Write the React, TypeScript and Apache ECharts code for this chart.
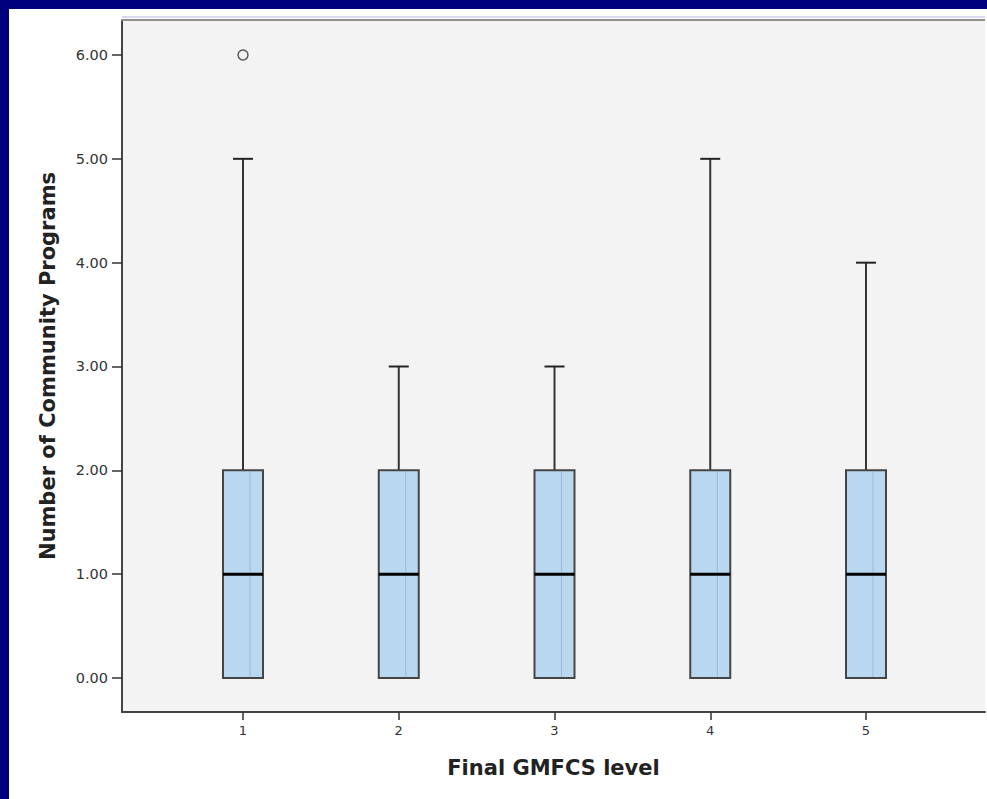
import React, { useEffect, useRef } from "react";
import * as echarts from "echarts";

const categories = [1, 2, 3, 4, 5];
const minVals = [0, 0, 0, 0, 0];
const q1Vals = [0, 0, 0, 0, 0];
const medianVals = [1, 1, 1, 1, 1];
const q3Vals = [2, 2, 2, 2, 2];
const maxVals = [5, 3, 3, 5, 4];
const outliers = [[1, 6]];
const yTicks = [0, 1, 2, 3, 4, 5, 6];

export default function App() {
  const ref = useRef<HTMLDivElement>(null);
  useEffect(() => {
    if (!ref.current) return;
    const chart = echarts.init(ref.current, undefined, { renderer: "svg" });
    const boxData = categories.map((c, i) => [c, minVals[i], q1Vals[i], medianVals[i], q3Vals[i], maxVals[i]]);
    const option: any = {
      animation: false,
      backgroundColor: "#00007c",
      textStyle: { fontFamily: "DejaVu Sans" },
      graphic: [
        { type: "rect", z: -100, shape: { x: 9, y: 9, width: 978, height: 790 }, style: { fill: "#ffffff" } },
        { type: "line", z: 100, shape: { x1: 122, y1: 17, x2: 985, y2: 17 }, style: { stroke: "#b4b4e0", lineWidth: 1 } },
        { type: "line", z: 100, shape: { x1: 121, y1: 20, x2: 985, y2: 20 }, style: { stroke: "#8f8f8f", lineWidth: 2 } },
      ],
      grid: {
        left: 122, top: 20, right: 2, bottom: 87,
        show: true, backgroundColor: "#f3f3f3", borderWidth: 0,
      },
      xAxis: {
        type: "value",
        min: 0.2231,
        max: 5.764,
        name: "Final GMFCS level",
        nameLocation: "middle",
        nameGap: 45,
        nameTextStyle: { fontSize: 21, fontWeight: "bold", color: "#222", fontFamily: "DejaVu Sans" },
        axisLine: { show: true, onZero: false, lineStyle: { color: "#444", width: 2 } },
        axisTick: { show: true, length: 8, customValues: categories, lineStyle: { color: "#333", width: 1.5 } },
        axisLabel: { customValues: categories, formatter: (v: number) => String(v), fontSize: 13, color: "#333", margin: 12 },
        splitLine: { show: false },
      },
      yAxis: {
        type: "value",
        min: -0.3274,
        max: 6.337,
        name: "Number of Community Programs",
        nameLocation: "middle",
        nameGap: 64,
        nameTextStyle: { fontSize: 21, fontWeight: "bold", color: "#222", fontFamily: "DejaVu Sans" },
        axisLine: { show: true, onZero: false, lineStyle: { color: "#444", width: 2 } },
        axisTick: { show: true, length: 10, customValues: yTicks, lineStyle: { color: "#333", width: 1.5 } },
        axisLabel: { customValues: yTicks, formatter: (v: number) => v.toFixed(2), fontSize: 14.5, color: "#333", margin: 14 },
        splitLine: { show: false },
      },
      series: [
        {
          type: "custom",
          data: boxData,
          encode: { x: 0, y: [1, 2, 3, 4, 5] },
          renderItem: (params: any, api: any) => {
            const x = api.value(0);
            const vmin = api.value(1);
            const q1 = api.value(2);
            const med = api.value(3);
            const q3 = api.value(4);
            const vmax = api.value(5);
            const pMin = api.coord([x, vmin]);
            const pQ1 = api.coord([x, q1]);
            const pMed = api.coord([x, med]);
            const pQ3 = api.coord([x, q3]);
            const pMax = api.coord([x, vmax]);
            const cx = pQ1[0];
            const hw = 20;
            const cw = 10;
            const children: any[] = [];
            if (vmax > q3) {
              children.push({ type: "line", shape: { x1: cx, y1: pQ3[1], x2: cx, y2: pMax[1] }, style: { stroke: "#333", lineWidth: 2 } });
              children.push({ type: "line", shape: { x1: cx - cw, y1: pMax[1], x2: cx + cw, y2: pMax[1] }, style: { stroke: "#222", lineWidth: 2 } });
            }
            if (vmin < q1) {
              children.push({ type: "line", shape: { x1: cx, y1: pQ1[1], x2: cx, y2: pMin[1] }, style: { stroke: "#333", lineWidth: 2 } });
              children.push({ type: "line", shape: { x1: cx - cw, y1: pMin[1], x2: cx + cw, y2: pMin[1] }, style: { stroke: "#222", lineWidth: 2 } });
            }
            children.push({
              type: "rect",
              shape: { x: cx - hw, y: pQ3[1], width: hw * 2, height: pQ1[1] - pQ3[1] },
              style: { fill: "#b9d8f0", stroke: "#454545", lineWidth: 2 },
            });
            children.push({
              type: "line",
              shape: { x1: cx + 7, y1: pQ3[1] + 1, x2: cx + 7, y2: pQ1[1] - 1 },
              style: { stroke: "rgba(110,130,150,0.35)", lineWidth: 1 },
            });
            children.push({
              type: "line",
              shape: { x1: cx - hw, y1: pMed[1], x2: cx + hw, y2: pMed[1] },
              style: { stroke: "#000", lineWidth: 3 },
            });
            return { type: "group", children };
          },
          z: 3,
        },
        {
          type: "scatter",
          data: outliers,
          symbol: "circle",
          symbolSize: 10,
          itemStyle: { color: "#f3f3f3", borderColor: "#333", borderWidth: 1.5 },
          z: 4,
        },
      ],
    };
    chart.setOption(option);
    return () => chart.dispose();
  }, []);
  return <div ref={ref} style={{ position: "fixed", left: 0, top: 0, width: 987, height: 799 }} />;
}
